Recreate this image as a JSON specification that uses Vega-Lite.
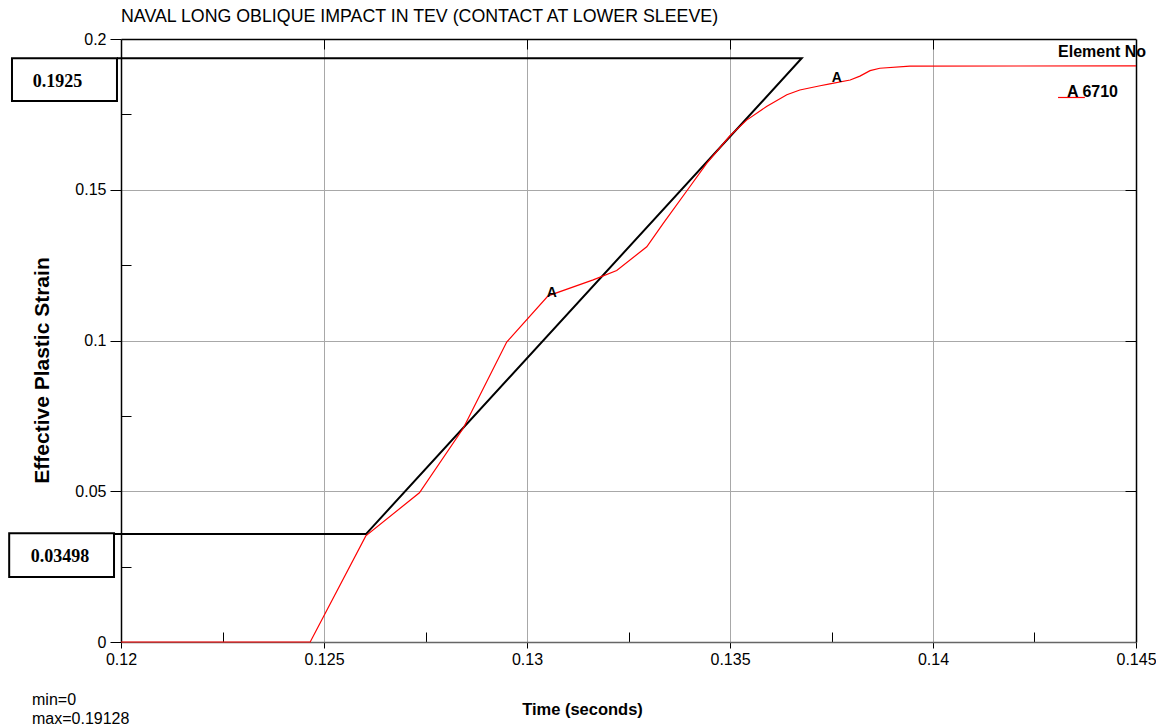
{
  "$schema": "https://vega.github.io/schema/vega-lite/v6.json",
  "width": 1015,
  "height": 603,
  "autosize": {"type": "none"},
  "padding": {"left": 121, "top": 39, "right": 20, "bottom": 84},
  "background": "white",
  "config": {"view": {"stroke": null}, "font": "Liberation Sans"},
  "title": {
    "text": "NAVAL LONG OBLIQUE IMPACT IN TEV (CONTACT AT LOWER SLEEVE)",
    "anchor": "start",
    "frame": "group",
    "font": "Liberation Sans",
    "fontSize": 17.8,
    "fontWeight": "normal",
    "color": "black",
    "baseline": "alphabetic",
    "offset": -9
  },
  "datasets": {
    "curve": [
      {"t": 0.12, "s": 0},
      {"t": 0.12466, "s": 0},
      {"t": 0.12603, "s": 0.0352},
      {"t": 0.12735, "s": 0.0495},
      {"t": 0.12843, "s": 0.0709},
      {"t": 0.1295, "s": 0.0995},
      {"t": 0.13052, "s": 0.1148},
      {"t": 0.13163, "s": 0.1201},
      {"t": 0.13221, "s": 0.1232},
      {"t": 0.13295, "s": 0.1311},
      {"t": 0.13336, "s": 0.1389},
      {"t": 0.13401, "s": 0.151},
      {"t": 0.13443, "s": 0.1588},
      {"t": 0.135, "s": 0.1679},
      {"t": 0.13541, "s": 0.1731},
      {"t": 0.1359, "s": 0.1776},
      {"t": 0.1364, "s": 0.1815},
      {"t": 0.13672, "s": 0.1831},
      {"t": 0.13722, "s": 0.1845},
      {"t": 0.13746, "s": 0.1851},
      {"t": 0.13796, "s": 0.1864},
      {"t": 0.1382, "s": 0.1877},
      {"t": 0.13845, "s": 0.1895},
      {"t": 0.13869, "s": 0.1903},
      {"t": 0.13943, "s": 0.191},
      {"t": 0.145, "s": 0.1911}
    ],
    "refline": [
      {"ord": 1, "t": 0.1199, "s": 0.1936},
      {"ord": 2, "t": 0.136766, "s": 0.1936},
      {"ord": 3, "t": 0.126034, "s": 0.0358},
      {"ord": 4, "t": 0.119828, "s": 0.0358}
    ],
    "boxes": [
      {"t": 0.117315, "t2": 0.119901, "s": 0.1936, "s2": 0.17944},
      {"t": 0.117246, "t2": 0.119828, "s": 0.03605, "s2": 0.02156}
    ],
    "boxlabels": [
      {"t": 0.118436, "s": 0.18408, "label": "0.1925"},
      {"t": 0.1185, "s": 0.02643, "label": "0.03498"}
    ],
    "markers": [
      {"t": 0.13061, "s": 0.1144, "label": "A"},
      {"t": 0.13763, "s": 0.1858, "label": "A"}
    ],
    "legendrule": [
      {"t": 0.14308, "t2": 0.14374, "s": 0.1806}
    ],
    "legendtext": [
      {"t": 0.14308, "s": 0.194, "label": "Element No"},
      {"t": 0.1433, "s": 0.1808, "label": "A 6710"}
    ],
    "minmax": [
      {"t": 0.117808, "s": -0.0209, "label": "min=0"},
      {"t": 0.117808, "s": -0.0272, "label": "max=0.19128"}
    ]
  },
  "resolve": {"axis": {"x": "independent", "y": "independent"}},
  "layer": [
    {
      "data": {"name": "refline"},
      "mark": {"type": "line", "color": "black", "strokeWidth": 2},
      "encoding": {
        "x": {
          "field": "t", "type": "quantitative",
          "scale": {"domain": [0.12, 0.145], "nice": false, "zero": false},
          "axis": {"orient": "top", "values": [0.125, 0.13, 0.135, 0.14], "tickSize": -10, "tickColor": "black", "labels": false, "grid": false, "domainColor": "black", "domainWidth": 1.5, "title": null}
        },
        "y": {
          "field": "s", "type": "quantitative",
          "scale": {"domain": [0, 0.2], "nice": false, "zero": false},
          "axis": {"orient": "right", "values": [0.05, 0.1, 0.15], "tickSize": -11, "tickColor": "black", "labels": false, "grid": false, "domainColor": "black", "domainWidth": 1.5, "title": null}
        },
        "order": {"field": "ord", "type": "quantitative"}
      }
    },
    {
      "data": {"name": "curve"},
      "mark": {"type": "line", "color": "#ff0000", "strokeWidth": 1.2},
      "encoding": {
        "x": {
          "field": "t", "type": "quantitative",
          "axis": {
            "orient": "bottom",
            "values": [0.12, 0.1225, 0.125, 0.1275, 0.13, 0.1325, 0.135, 0.1375, 0.14, 0.1425, 0.145],
            "labelExpr": "round(datum.value*1000)%5==0 ? format(datum.value,'~g') : ''",
            "tickSize": {"condition": {"test": "round(datum.value*1000)%5==0", "value": 6}, "value": -10},
            "tickColor": "black",
            "grid": true,
            "gridColor": "#a8a8a8",
            "gridWidth": 1,
            "gridOpacity": {"condition": {"test": "round(datum.value*1000)%5==0 && datum.value>0.1201 && datum.value<0.1449", "value": 1}, "value": 0},
            "domainColor": "#666666",
            "domainWidth": 1.5,
            "labelFont": "Liberation Sans",
            "labelFontSize": 16,
            "labelColor": "black",
            "labelPadding": 3,
            "labelFlush": false,
            "labelOverlap": false,
            "labelBound": false,
            "title": "Time (seconds)",
            "titleFont": "Liberation Sans",
            "titleFontSize": 16.5,
            "titleFontWeight": "bold",
            "titleColor": "black",
            "titleAlign": "center",
            "titleBaseline": "alphabetic",
            "titleX": 461,
            "titleY": 72
          }
        },
        "y": {
          "field": "s", "type": "quantitative",
          "axis": {
            "orient": "left",
            "values": [0, 0.025, 0.05, 0.075, 0.1, 0.125, 0.15, 0.175, 0.2],
            "labelExpr": "round(datum.value*1000)%50==0 ? format(datum.value,'~g') : ''",
            "tickSize": {"condition": {"test": "round(datum.value*1000)%50==0", "value": 11}, "value": -10},
            "tickColor": "black",
            "grid": true,
            "gridColor": "#a8a8a8",
            "gridWidth": 1,
            "gridOpacity": {"condition": {"test": "round(datum.value*1000)%50==0 && datum.value>0.001 && datum.value<0.199", "value": 1}, "value": 0},
            "domainColor": "black",
            "domainWidth": 1.5,
            "labelFont": "Liberation Sans",
            "labelFontSize": 16,
            "labelColor": "black",
            "labelPadding": 4,
            "labelFlush": false,
            "labelOverlap": false,
            "labelBound": false,
            "title": "Effective Plastic Strain",
            "titleFont": "Liberation Sans",
            "titleFontSize": 21,
            "titleFontWeight": "bold",
            "titleColor": "black",
            "titleAngle": 270,
            "titleAlign": "center",
            "titleBaseline": "alphabetic",
            "titleX": -73,
            "titleY": 331
          }
        }
      }
    },
    {
      "data": {"name": "boxes"},
      "mark": {"type": "rect", "fill": "white", "stroke": "black", "strokeWidth": 2},
      "encoding": {
        "x": {"field": "t", "type": "quantitative", "axis": null},
        "x2": {"field": "t2"},
        "y": {"field": "s", "type": "quantitative", "axis": null},
        "y2": {"field": "s2"}
      }
    },
    {
      "data": {"name": "boxlabels"},
      "mark": {"type": "text", "font": "Liberation Serif", "fontSize": 18, "fontWeight": "bold", "color": "black", "align": "center", "baseline": "alphabetic"},
      "encoding": {
        "x": {"field": "t", "type": "quantitative", "axis": null},
        "y": {"field": "s", "type": "quantitative", "axis": null},
        "text": {"field": "label"}
      }
    },
    {
      "data": {"name": "markers"},
      "mark": {"type": "text", "font": "Liberation Sans", "fontSize": 14, "fontWeight": "bold", "color": "black", "align": "center", "baseline": "alphabetic"},
      "encoding": {
        "x": {"field": "t", "type": "quantitative", "axis": null},
        "y": {"field": "s", "type": "quantitative", "axis": null},
        "text": {"field": "label"}
      }
    },
    {
      "data": {"name": "legendrule"},
      "mark": {"type": "rule", "color": "#ff0000", "strokeWidth": 1.2},
      "encoding": {
        "x": {"field": "t", "type": "quantitative", "axis": null},
        "x2": {"field": "t2"},
        "y": {"field": "s", "type": "quantitative", "axis": null}
      }
    },
    {
      "data": {"name": "legendtext"},
      "mark": {"type": "text", "font": "Liberation Sans", "fontSize": 16, "fontWeight": "bold", "color": "black", "align": "left", "baseline": "alphabetic"},
      "encoding": {
        "x": {"field": "t", "type": "quantitative", "axis": null},
        "y": {"field": "s", "type": "quantitative", "axis": null},
        "text": {"field": "label"}
      }
    },
    {
      "data": {"name": "minmax"},
      "mark": {"type": "text", "font": "Liberation Sans", "fontSize": 16, "fontWeight": "normal", "color": "black", "align": "left", "baseline": "alphabetic"},
      "encoding": {
        "x": {"field": "t", "type": "quantitative", "axis": null},
        "y": {"field": "s", "type": "quantitative", "axis": null},
        "text": {"field": "label"}
      }
    }
  ]
}
